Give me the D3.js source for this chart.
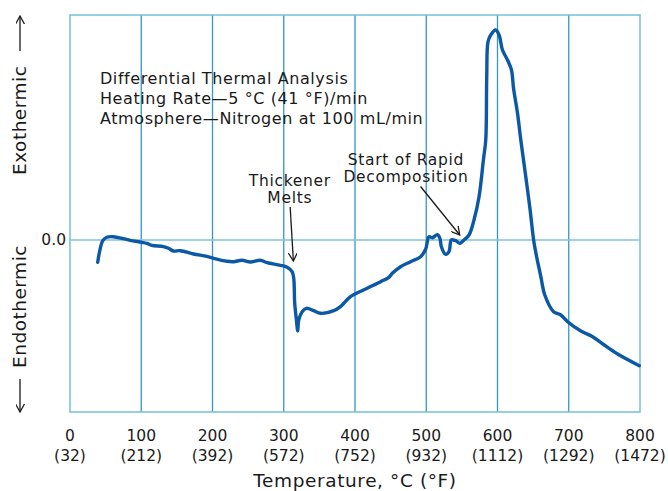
<!DOCTYPE html>
<html>
<head>
<meta charset="utf-8">
<script src="https://cdn.jsdelivr.net/npm/d3@7"></script>
<style>
  body { margin: 0; background: #fff; }
  text { font-family: "DejaVu Sans", "Liberation Sans", sans-serif; fill: #1a1a1a; }
</style>
</head>
<body>
<div id="chart"></div>
<script>
// DTA curve: temperature in °C and signal (arbitrary units, 0 = baseline)
const tempC = [38.9, 41.2, 46.0, 51.6, 60.9, 74.9, 84.4, 100.8, 107.8, 114.9, 131.2, 138.2, 145.2, 154.7,
  173.4, 192.2, 201.5, 220.3, 229.6, 241.4, 253.1, 267.1, 276.6, 295.3, 304.7, 311.7, 314.0, 315.4, 317.8,
  319.6, 321.0, 325.8, 331.8, 342.1, 351.5, 370.2, 379.6, 393.7, 417.2, 435.9, 447.5, 452.3, 464.0, 478.0,
  492.1, 499.1, 503.8, 508.6, 515.6, 519.2, 521.2, 527.2, 531.9, 535.3, 541.3, 547.3, 553.0, 560.0, 567.0,
  574.1, 580.2, 583.5, 584.9, 586.7, 590.5, 597.5, 602.2, 607.0, 614.0, 619.6, 622.5, 628.1, 632.7, 639.7,
  645.8, 651.4, 660.8, 666.4, 678.7, 688.9, 698.4, 717.0, 733.5, 749.8, 768.6, 799.0];
const signal = [-2.23, -1.27, -0.07, 0.27, 0.33, 0.13, -0.03, -0.23, -0.33, -0.53, -0.67, -0.83, -1.1, -1.07,
  -1.4, -1.63, -1.83, -2.13, -2.17, -2.03, -2.2, -2.03, -2.27, -2.53, -2.73, -3.17, -3.83, -6.33, -8.0,
  -9.1, -8.0, -7.17, -6.83, -7.07, -7.33, -7.07, -6.67, -5.67, -4.83, -4.17, -3.73, -3.33, -2.67, -2.17,
  -1.67, -0.93, 0.33, 0.23, 0.53, 0.17, -0.67, -1.43, -1.17, 0, -0.07, -0.33, 0, 0.5, 2.0,
  4.33, 8.0, 10.0, 16.33, 19.83, 20.5, 21.0, 20.5, 19.0, 18.0, 17.0, 15.17, 12.67, 10.0, 6.33,
  3.0, -0.33, -3.67, -5.5, -7.17, -7.5, -8.17, -9.1, -9.67, -10.5, -11.4, -12.57];

const xTicks = [0, 100, 200, 300, 400, 500, 600, 700, 800];
const xTickF = ["(32)", "(212)", "(392)", "(572)", "(752)", "(932)", "(1112)", "(1292)", "(1472)"];
const yTicks = [0];
const notes = ["Differential Thermal Analysis", "Heating Rate\u20145 \u00B0C (41 \u00B0F)/min",
  "Atmosphere\u2014Nitrogen at 100 mL/min"];

const W = 668, H = 491;
const margin = { top: 15, left: 70, right: 28, bottom: 79 };
const width = W - margin.left - margin.right;
const height = H - margin.top - margin.bottom;

const svg = d3.select("#chart").append("svg")
  .attr("width", W)
  .attr("height", H);

const g = svg.append("g")
  .attr("transform", `translate(${margin.left},${margin.top})`);

const x = d3.scaleLinear().domain([0, 800]).range([0, width]);
const y = d3.scaleLinear().domain([-17.2, 22.5]).range([height, 0]);

// vertical gridlines
g.selectAll(".vgrid")
  .data(xTicks.slice(1, -1))
  .join("line")
    .attr("x1", d => x(d)).attr("x2", d => x(d))
    .attr("y1", 0).attr("y2", height)
    .attr("stroke", "#3198c4")
    .attr("stroke-width", 1.3);

// zero line
g.selectAll(".hgrid")
  .data(yTicks)
  .join("line")
    .attr("x1", 0).attr("x2", width)
    .attr("y1", d => y(d)).attr("y2", d => y(d))
    .attr("stroke", "#7cc4da")
    .attr("stroke-width", 1.5);

// frame
g.append("rect")
  .attr("width", width).attr("height", height)
  .attr("fill", "none")
  .attr("stroke", "#7cc4da")
  .attr("stroke-width", 1.6);

// x tick labels, °C and (°F)
const xl = g.append("g").attr("transform", `translate(0,${height})`);
xl.selectAll(".tc")
  .data(xTicks)
  .join("text")
    .attr("x", d => x(d)).attr("y", 29)
    .attr("text-anchor", "middle")
    .style("font-size", "15.5px")
    .text(d => d);
xl.selectAll(".tf")
  .data(xTicks)
  .join("text")
    .attr("x", d => x(d)).attr("y", 49)
    .attr("text-anchor", "middle")
    .style("font-size", "15.5px")
    .text((d, i) => xTickF[i]);

g.append("text")
  .attr("x", x(400)).attr("y", height + 75)
  .attr("text-anchor", "middle")
  .style("font-size", "18.5px")
  .style("letter-spacing", "0.6px")
  .text("Temperature, \u00B0C (\u00B0F)");

// y tick label
g.selectAll(".ty")
  .data(yTicks)
  .join("text")
    .attr("x", -4).attr("y", d => y(d))
    .attr("dy", "0.35em")
    .attr("text-anchor", "end")
    .style("font-size", "15.5px")
    .text(d => d.toFixed(1));

// arrow head
svg.append("defs").append("marker")
  .attr("id", "ah")
  .attr("viewBox", "0 0 10 10")
  .attr("refX", 9).attr("refY", 5)
  .attr("markerWidth", 9).attr("markerHeight", 9)
  .attr("markerUnits", "userSpaceOnUse")
  .attr("orient", "auto")
  .append("path")
    .attr("d", "M0,0 L9,5 L0,10")
    .attr("fill", "none")
    .attr("stroke", "#1a1a1a")
    .attr("stroke-width", 1.4);

// y labels with arrows
svg.append("text")
  .attr("transform", `translate(26,${margin.top + 160}) rotate(-90)`)
  .attr("text-anchor", "start")
  .style("font-size", "18.5px")
  .style("letter-spacing", "0.5px")
  .text("Exothermic");
svg.append("text")
  .attr("transform", `translate(26,${margin.top + 353}) rotate(-90)`)
  .attr("text-anchor", "start")
  .style("font-size", "18.5px")
  .style("letter-spacing", "0.5px")
  .text("Endothermic");
svg.append("line")
  .attr("x1", 20).attr("y1", 51).attr("x2", 20).attr("y2", 16)
  .attr("stroke", "#1a1a1a").attr("stroke-width", 1.3)
  .attr("marker-end", "url(#ah)");
svg.append("line")
  .attr("x1", 20).attr("y1", 379).attr("x2", 20).attr("y2", 412)
  .attr("stroke", "#1a1a1a").attr("stroke-width", 1.3)
  .attr("marker-end", "url(#ah)");

// notes
g.append("g").selectAll("text")
  .data(notes)
  .join("text")
    .attr("x", x(42)).attr("y", (d, i) => 69 + i * 20)
    .style("font-size", "16px")
    .style("letter-spacing", "0.6px")
    .text(d => d);

// annotations
const annot = [
  { lines: ["Thickener", "Melts"], tx: 308.5, ty: 171, from: [309, 192], to: [313.5, 246] },
  { lines: ["Start of Rapid", "Decomposition"], tx: 471.5, ty: 150, from: [492, 171.5], to: [547, 220] }
];
annot.forEach(a => {
  g.append("text")
    .attr("x", x(a.tx)).attr("y", a.ty)
    .attr("text-anchor", "middle")
    .style("font-size", "15.5px")
    .style("letter-spacing", "0.7px")
    .selectAll("tspan")
    .data(a.lines)
    .join("tspan")
      .attr("x", x(a.tx))
      .attr("dy", (d, i) => i === 0 ? 0 : 17)
      .text(d => d);
  g.append("line")
    .attr("x1", x(a.from[0])).attr("y1", a.from[1])
    .attr("x2", x(a.to[0])).attr("y2", a.to[1])
    .attr("stroke", "#1a1a1a")
    .attr("stroke-width", 1.3)
    .attr("marker-end", "url(#ah)");
});

// DTA curve
const pts = tempC.map((t, i) => [t, signal[i]]);
g.append("path")
  .datum(pts)
  .attr("fill", "none")
  .attr("stroke", "#0b58a6")
  .attr("stroke-width", 3.4)
  .attr("stroke-linejoin", "round")
  .attr("stroke-linecap", "round")
  .attr("d", d3.line()
    .x(d => x(d[0]))
    .y(d => y(d[1]))
    .curve(d3.curveCatmullRom.alpha(0.5)));
</script>
</body>
</html>
